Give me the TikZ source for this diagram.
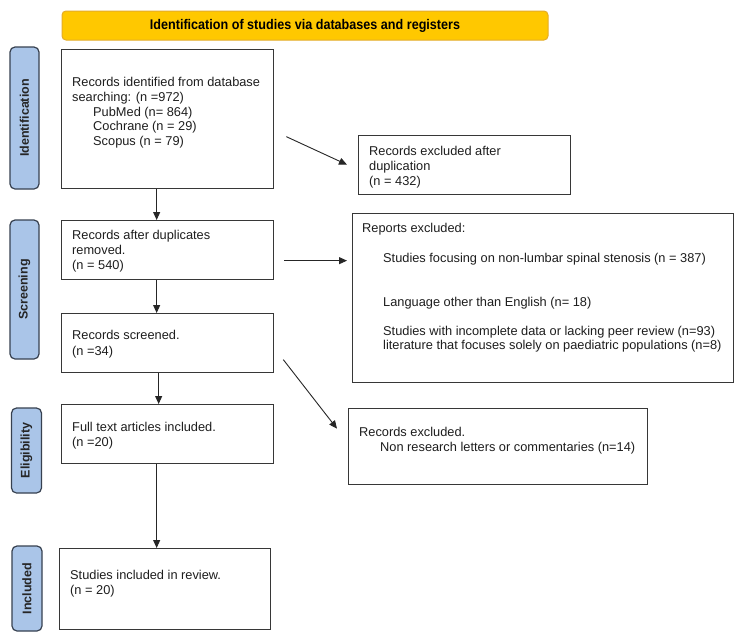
\documentclass[tikz,border=0pt]{standalone}
\usepackage{fontspec}
\setmainfont{Liberation Sans}
\usetikzlibrary{arrows.meta}
\definecolor{bannerfill}{RGB}{255,200,0}
\definecolor{bannerdraw}{RGB}{228,172,40}
\definecolor{phasefill}{RGB}{170,197,232}
\definecolor{phasedraw}{RGB}{55,65,80}
\definecolor{boxdraw}{RGB}{55,55,55}
\definecolor{txtcol}{RGB}{30,30,30}
\begin{document}
\begin{tikzpicture}[x=1pt,y=-1pt,
  boxn/.style={draw=boxdraw, line width=1.3pt, fill=white, inner sep=0pt, anchor=north west},
  txt/.style={font=\fontsize{12.8}{14.8}\selectfont, text=txtcol, align=left, inner sep=0pt, anchor=north west},
  phase/.style={draw=phasedraw, fill=phasefill, line width=1.2pt, rounded corners=5pt, inner sep=0pt, rotate=90, font=\bfseries\fontsize{12.5}{14}\selectfont, text=black!85},
  arr/.style={draw=black!85, line width=0.9pt, -{Triangle[length=8pt,width=7pt]}},
]
\fill[white] (0,0) rectangle (740,638);
\useasboundingbox (0,0) rectangle (740,638);

% banner
\node[draw=bannerdraw, fill=bannerfill, rounded corners=4pt, line width=1pt,
      minimum width=486pt, minimum height=29pt, inner sep=0pt] (banner) at (305,25.5)
  {\scalebox{0.9}[1]{\bfseries\fontsize{14}{16}\selectfont Identification of studies via databases and registers}};

% phase labels
\node[phase, minimum width=142pt, minimum height=29pt] (pid) at (24.5,118) {Identification};
\node[phase, minimum width=139pt, minimum height=29pt] (psc) at (24.5,289.5) {Screening};
\node[phase, minimum width=85pt, minimum height=30pt] (pel) at (26.5,450.5) {Eligibility};
\node[phase, minimum width=85pt, minimum height=30pt] (pin) at (27,588.5) {Included};

% boxes
\node[boxn, minimum width=212pt, minimum height=139pt] (b1) at (61,49) {};
\node[boxn, minimum width=212pt, minimum height=59pt] (b2) at (61,220) {};
\node[boxn, minimum width=212pt, minimum height=59pt] (b3) at (61,313) {};
\node[boxn, minimum width=212pt, minimum height=59pt] (b4) at (61,404) {};
\node[boxn, minimum width=211pt, minimum height=81pt] (b5) at (59,548) {};
\node[boxn, minimum width=212pt, minimum height=59pt] (ex1) at (358,135) {};
\node[boxn, minimum width=381pt, minimum height=169pt] (rep) at (352,213) {};
\node[boxn, minimum width=299pt, minimum height=76pt] (ex3) at (348,408) {};

% texts
\node[txt] (t1) at (72,77) {Records identified from database\\
searching: (n =972)\\
\hspace*{21pt}PubMed (n= 864)\\
\hspace*{21pt}Cochrane (n = 29)\\
\hspace*{21pt}Scopus (n = 79)};
\node[txt] (t2) at (72,230) {Records after duplicates\\ removed.\\ (n = 540)};
\node[txt] (t3) at (72,330) {Records screened.\\[1pt] (n =34)};
\node[txt] (t4) at (72,422) {Full text articles included.\\ (n =20)};
\node[txt] (t5) at (70,570) {Studies included in review.\\ (n = 20)};
\node[txt] (te1) at (369,146) {Records excluded after\\ duplication\\ (n = 432)};
\node[txt] (trep) at (362,223) {Reports excluded:\\[15pt]
\hspace*{21pt}Studies focusing on non-lumbar spinal stenosis (n = 387)\\[29pt]
\hspace*{21pt}Language other than English (n= 18)\\[15pt]
\hspace*{21pt}Studies with incomplete data or lacking peer review (n=93)\\[-1.5pt]
\hspace*{21pt}literature that focuses solely on paediatric populations (n=8)};
\node[txt] (te3) at (359,427) {Records excluded.\\
\hspace*{21pt}Non research letters or commentaries (n=14)};

% arrows
\draw[arr] ([xshift=-11pt]b1.south) -- ([xshift=-11pt]b2.north);
\draw[arr] ([xshift=-11pt]b2.south) -- ([xshift=-11pt]b3.north);
\draw[arr] ([xshift=-9pt]b3.south) -- ([xshift=-9pt]b4.north);
\draw[arr] ([xshift=-11pt]b4.south) -- ([xshift=-8.5pt]b5.north);
\draw[arr] ([shift={(12,17.5)}]b1.east) -- ([shift={(-11,-0.5)}]ex1.west);
\draw[arr] ([shift={(10,10.5)}]b2.east) -- ([shift={(-5,-37.5)}]rep.west);
\draw[arr] ([shift={(9,16.5)}]b3.east) -- ([shift={(-11,-18)}]ex3.west);
\end{tikzpicture}
\end{document}
